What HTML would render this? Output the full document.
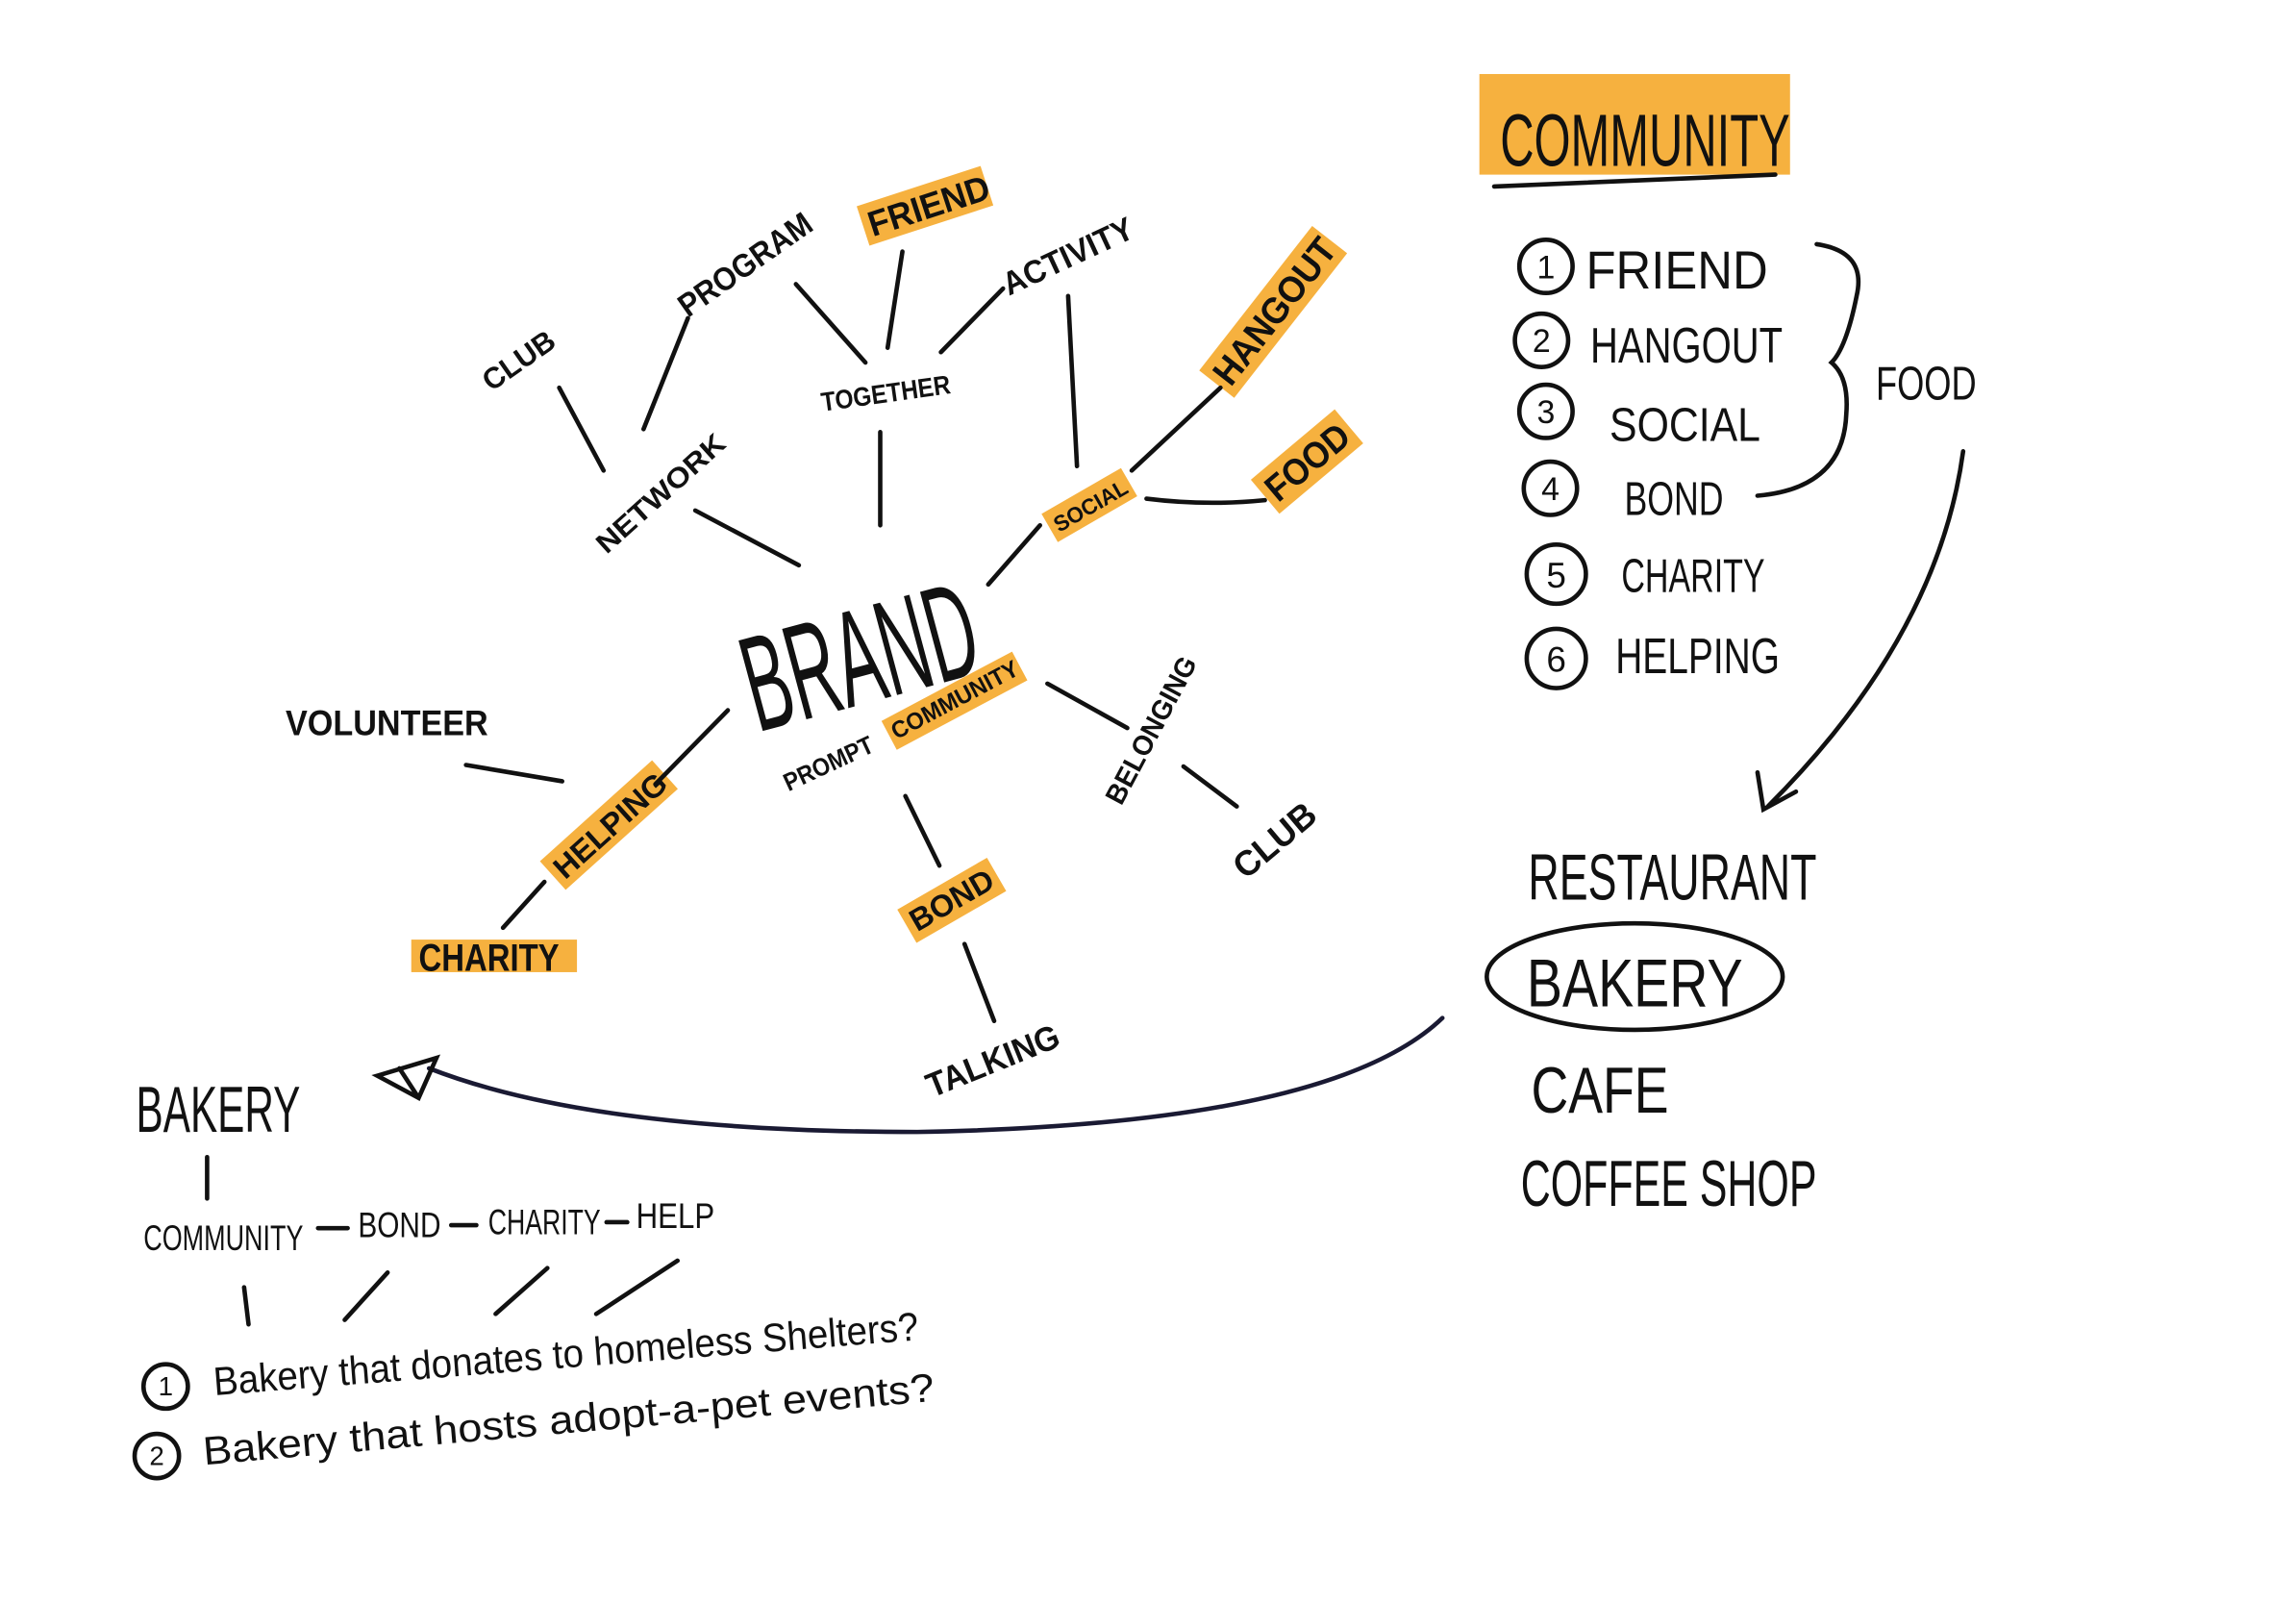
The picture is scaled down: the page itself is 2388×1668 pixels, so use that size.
<!DOCTYPE html>
<html><head><meta charset="utf-8"><style>
html,body{margin:0;padding:0;background:#fff;width:2388px;height:1668px;overflow:hidden}
svg{display:block}
text{font-family:"Liberation Sans",sans-serif;fill:#111;font-weight:bold}
.n{font-weight:normal}
.l{stroke:#111;stroke-width:3;fill:none;stroke-linecap:round}
.h{fill:#f6b13f}
.c{text-anchor:middle;font-weight:normal}
</style></head><body>
<svg width="2388" height="1668" viewBox="0 0 1552 1084" xmlns="http://www.w3.org/2000/svg">
<rect width="1552" height="1084" fill="#fff"/>
<!-- highlights -->
<rect class="h" x="1000" y="50" width="210" height="68"/>
<rect class="h" x="586" y="137" width="88" height="28" transform="rotate(-18 590 160)"/>
<rect class="h" x="828" y="238" width="124" height="30" transform="rotate(-52 832 262)"/>
<rect class="h" x="860" y="316" width="74" height="30" transform="rotate(-40 864 340)"/>
<rect class="h" x="712" y="343" width="62" height="22" transform="rotate(-30 716 360)"/>
<rect class="h" x="603" y="484" width="100" height="22" transform="rotate(-28 606 500)"/>
<rect class="h" x="378" y="574" width="102" height="26" transform="rotate(-42 382 595)"/>
<rect class="h" x="278" y="635" width="112" height="22"/>
<rect class="h" x="616" y="610" width="70" height="26" transform="rotate(-30 620 630)"/>
<!-- connectors -->
<g class="l">
<path d="M378 262 L408 318"/><path d="M465 215 L435 290"/><path d="M470 345 L540 382"/>
<path d="M538 192 L585 245"/><path d="M610 170 L600 235"/><path d="M678 195 L636 238"/>
<path d="M595 292 L595 355"/><path d="M722 200 L728 315"/><path d="M765 318 L825 262"/>
<path d="M775 337 Q815 342 855 338"/><path d="M703 355 L668 395"/>
<path d="M708 462 L762 492"/><path d="M800 518 L836 545"/>
<path d="M612 538 L635 585"/><path d="M652 638 L672 690"/>
<path d="M492 480 L443 530"/><path d="M315 517 L380 528"/><path d="M368 596 L340 627"/>
<path d="M975 688 Q900 760 620 765 Q400 765 290 722" stroke="#1a1a33"/>
<path d="M255 727 L295 715 L283 742 Z M270 722 L283 742"/>
<path d="M1327 305 Q1310 430 1195 545"/><path d="M1188 522 L1192 547 L1214 535"/>
<path d="M1228 165 Q1262 170 1255 200 Q1248 235 1238 245 Q1250 255 1248 280 Q1246 330 1188 335"/>
<ellipse cx="1105" cy="660" rx="100" ry="36"/>
<path d="M1010 126 L1200 118"/>
<path d="M140 782 L140 810"/><path d="M165 870 L168 895"/><path d="M262 860 L233 892"/>
<path d="M370 857 L335 888"/><path d="M458 852 L403 888"/>
<path d="M215 830 L235 830"/><path d="M305 828 L322 828"/><path d="M410 826 L424 826"/>
<circle cx="1045" cy="180" r="18"/><circle cx="1042" cy="230" r="18"/><circle cx="1045" cy="278" r="18"/>
<circle cx="1048" cy="330" r="18"/><circle cx="1052" cy="388" r="20"/><circle cx="1052" cy="445" r="20"/>
<circle cx="112" cy="937" r="15"/><circle cx="106" cy="984" r="15"/>
</g>
<!-- labels -->
<text x="332" y="265" font-size="20" textLength="55" lengthAdjust="spacingAndGlyphs" transform="rotate(-35 332 265)">CLUB</text>
<text x="465" y="215" font-size="22" textLength="105" lengthAdjust="spacingAndGlyphs" transform="rotate(-35 465 215)">PROGRAM</text>
<text x="590" y="160" font-size="24" textLength="85" lengthAdjust="spacingAndGlyphs" transform="rotate(-18 590 160)">FRIEND</text>
<text x="682" y="200" font-size="22" textLength="95" lengthAdjust="spacingAndGlyphs" transform="rotate(-25 682 200)">ACTIVITY</text>
<text x="556" y="278" font-size="18" textLength="88" lengthAdjust="spacingAndGlyphs" transform="rotate(-8 556 278)">TOGETHER</text>
<text x="410" y="375" font-size="19" textLength="110" lengthAdjust="spacingAndGlyphs" transform="rotate(-42 410 375)">NETWORK</text>
<text x="832" y="262" font-size="25" textLength="118" lengthAdjust="spacingAndGlyphs" transform="rotate(-52 832 262)">HANGOUT</text>
<text x="864" y="340" font-size="25" textLength="66" lengthAdjust="spacingAndGlyphs" transform="rotate(-40 864 340)">FOOD</text>
<text x="716" y="360" font-size="15" textLength="55" lengthAdjust="spacingAndGlyphs" transform="rotate(-30 716 360)">SOCIAL</text>
<text x="512" y="495" font-size="92" class="n" textLength="160" lengthAdjust="spacingAndGlyphs" transform="rotate(-15 512 495)">BRAND</text>
<text x="533" y="535" font-size="17" textLength="65" lengthAdjust="spacingAndGlyphs" transform="rotate(-25 533 535)">PROMPT</text>
<text x="606" y="500" font-size="16" textLength="95" lengthAdjust="spacingAndGlyphs" transform="rotate(-28 606 500)">COMMUNITY</text>
<text x="758" y="545" font-size="19" textLength="110" lengthAdjust="spacingAndGlyphs" transform="rotate(-62 758 545)">BELONGING</text>
<text x="842" y="595" font-size="24" textLength="65" lengthAdjust="spacingAndGlyphs" transform="rotate(-40 842 595)">CLUB</text>
<text x="193" y="497" font-size="24" textLength="137" lengthAdjust="spacingAndGlyphs">VOLUNTEER</text>
<text x="382" y="595" font-size="21" textLength="95" lengthAdjust="spacingAndGlyphs" transform="rotate(-42 382 595)">HELPING</text>
<text x="283" y="656" font-size="26" textLength="95" lengthAdjust="spacingAndGlyphs">CHARITY</text>
<text x="620" y="630" font-size="21" textLength="62" lengthAdjust="spacingAndGlyphs" transform="rotate(-30 620 630)">BOND</text>
<text x="630" y="742" font-size="23" textLength="95" lengthAdjust="spacingAndGlyphs" transform="rotate(-22 630 742)">TALKING</text>
<text x="1014" y="112" font-size="50" class="n" textLength="196" lengthAdjust="spacingAndGlyphs">COMMUNITY</text>
<text x="1072" y="195" font-size="36" class="n" textLength="123" lengthAdjust="spacingAndGlyphs">FRIEND</text>
<text x="1075" y="245" font-size="34" class="n" textLength="130" lengthAdjust="spacingAndGlyphs">HANGOUT</text>
<text x="1088" y="298" font-size="32" class="n" textLength="102" lengthAdjust="spacingAndGlyphs">SOCIAL</text>
<text x="1098" y="348" font-size="32" class="n" textLength="67" lengthAdjust="spacingAndGlyphs">BOND</text>
<text x="1096" y="400" font-size="32" class="n" textLength="97" lengthAdjust="spacingAndGlyphs">CHARITY</text>
<text x="1092" y="455" font-size="34" class="n" textLength="111" lengthAdjust="spacingAndGlyphs">HELPING</text>
<text x="1268" y="270" font-size="32" class="n" textLength="68" lengthAdjust="spacingAndGlyphs">FOOD</text>
<text x="1033" y="608" font-size="44" class="n" textLength="195" lengthAdjust="spacingAndGlyphs">RESTAURANT</text>
<text x="1032" y="680" font-size="46" class="n" textLength="146" lengthAdjust="spacingAndGlyphs">BAKERY</text>
<text x="1035" y="752" font-size="44" class="n" textLength="93" lengthAdjust="spacingAndGlyphs">CAFE</text>
<text x="1028" y="815" font-size="44" class="n" textLength="200" lengthAdjust="spacingAndGlyphs">COFFEE SHOP</text>
<text x="92" y="765" font-size="44" class="n" textLength="111" lengthAdjust="spacingAndGlyphs">BAKERY</text>
<text x="97" y="845" font-size="24" class="n" textLength="108" lengthAdjust="spacingAndGlyphs">COMMUNITY</text>
<text x="242" y="836" font-size="24" class="n" textLength="56" lengthAdjust="spacingAndGlyphs">BOND</text>
<text x="330" y="834" font-size="24" class="n" textLength="76" lengthAdjust="spacingAndGlyphs">CHARITY</text>
<text x="430" y="830" font-size="24" class="n" textLength="53" lengthAdjust="spacingAndGlyphs">HELP</text>
<text x="145" y="943" font-size="27" class="n" textLength="478" lengthAdjust="spacingAndGlyphs" transform="rotate(-4.5 145 943)">Bakery  that  donates  to  homeless  Shelters?</text>
<text x="138" y="990" font-size="27" class="n" textLength="496" lengthAdjust="spacingAndGlyphs" transform="rotate(-5 138 990)">Bakery  that  hosts  adopt-a-pet  events?</text>
<text x="1045" y="188" font-size="22" class="c">1</text>
<text x="1042" y="238" font-size="22" class="c">2</text>
<text x="1045" y="286" font-size="22" class="c">3</text>
<text x="1048" y="338" font-size="22" class="c">4</text>
<text x="1052" y="397" font-size="24" class="c">5</text>
<text x="1052" y="454" font-size="24" class="c">6</text>
<text x="112" y="943" font-size="18" class="c">1</text>
<text x="106" y="990" font-size="18" class="c">2</text>
</svg>
</body></html>
